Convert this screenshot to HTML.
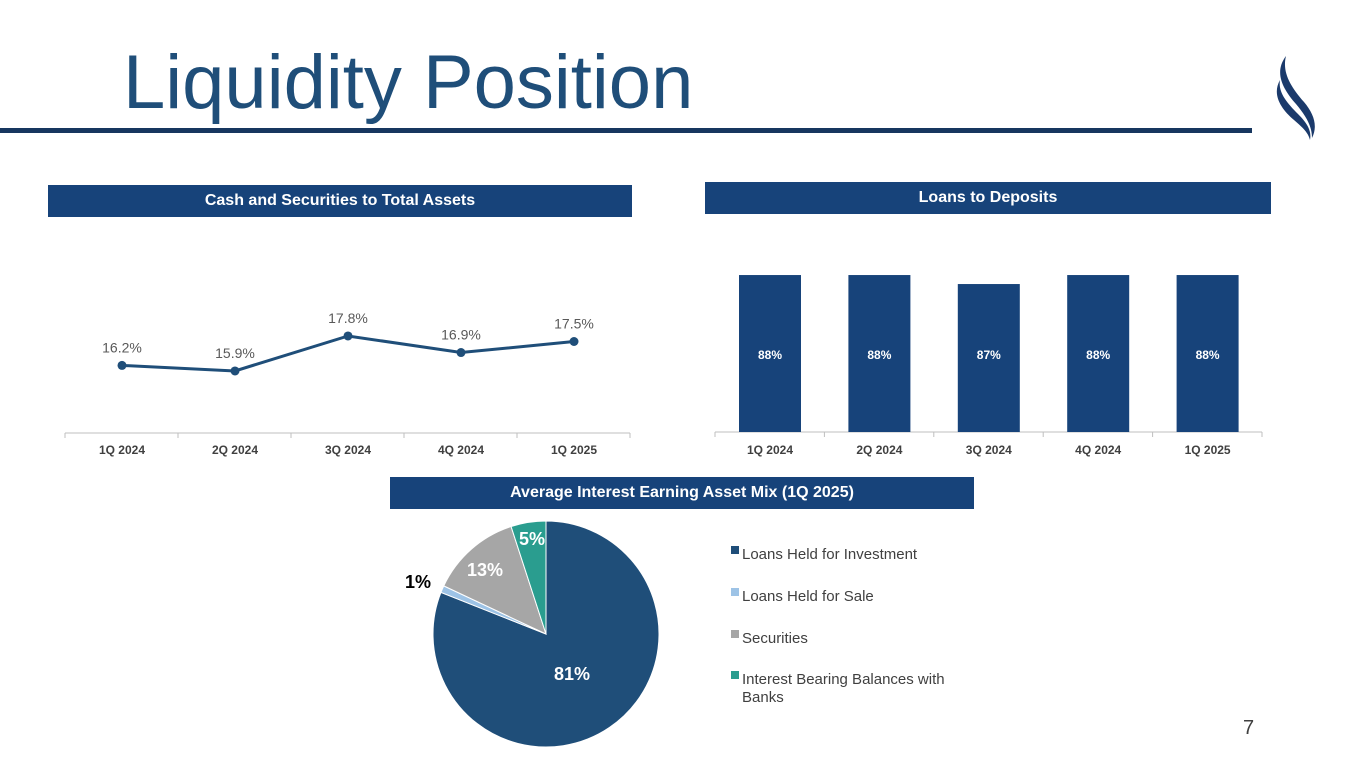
<!DOCTYPE html>
<html><head><meta charset="utf-8"><style>
body{margin:0;width:1365px;height:768px;background:#fff;font-family:"Liberation Sans",sans-serif;position:relative;overflow:hidden}
.t{position:absolute}
.hdr{position:absolute;background:#17437a;color:#fff;font-weight:bold;font-size:16px;text-align:center;box-sizing:border-box}
</style></head><body>
<div class="t" style="left:123px;top:38px;font-size:76px;color:#1f4e79;line-height:90px">Liquidity Position</div>
<div class="t" style="left:0;top:128px;width:1252px;height:5px;background:#17365f"></div>
<svg class="t" style="left:1268px;top:52px" width="60" height="90" viewBox="0 0 60 90">
<path d="M18 4 C6 20,14 36,28 52 C38 64,44 74,44 86 C50 74,46 62,36 50 C22 34,14 20,18 4Z" fill="#1b3a6b"/>
<path d="M12 28 C4 42,12 56,26 68 C34 75,40 80,42 88 C44 78,38 70,30 62 C18 50,10 40,12 28Z" fill="#1b3a6b"/>
</svg>
<div class="hdr" style="left:48px;top:185px;width:584px;height:32px;line-height:32px">Cash and Securities to Total Assets</div>
<div class="hdr" style="left:705px;top:182px;width:566px;height:32px;line-height:32px">Loans to Deposits</div>
<div class="hdr" style="left:390px;top:477px;width:584px;height:32px;line-height:32px">Average Interest Earning Asset Mix (1Q 2025)</div>
<svg class="t" id="charts" style="left:0;top:0" width="1365" height="768"></svg>
<div class="t" style="left:1243px;top:717px;font-size:20px;color:#404040">7</div>
<script>
const cats=["1Q 2024","2Q 2024","3Q 2024","4Q 2024","1Q 2025"];
const cashVals=[16.2,15.9,17.8,16.9,17.5];
const cashLabels=["16.2%","15.9%","17.8%","16.9%","17.5%"];
const ldVals=[88,88,87,88,88];
const ldLabels=["88%","88%","87%","88%","88%"];
const pieNames=["Loans Held for Investment","Loans Held for Sale","Securities","Interest Bearing Balances with Banks"];
const pieVals=[81,1,13,5];
const pieLabels=["81%","1%","13%","5%"];
const NS="http://www.w3.org/2000/svg";
const svg=document.getElementById('charts');
function mk(t,a,txt){const e=document.createElementNS(NS,t);for(const k in a)e.setAttribute(k,a[k]);if(txt!=null)e.textContent=txt;svg.appendChild(e);return e;}
// line chart
const lx=i=>122+i*113, ly=v=>663.5-v*18.4;
let ax=mk('line',{x1:65,y1:433,x2:630,y2:433,stroke:'#bfbfbf'});

for(let i=0;i<=5;i++){mk('line',{x1:65+i*113,y1:433,x2:65+i*113,y2:438,stroke:'#bfbfbf'});}
let d=cashVals.map((v,i)=>(i?'L':'M')+lx(i)+' '+ly(v)).join(' ');
let pl=mk('path',{d:d,fill:'none',stroke:'#1f4e79','stroke-width':3});

cashVals.forEach((v,i)=>{
 let c=mk('circle',{cx:lx(i),cy:ly(v),r:4.5,fill:'#1f4e79'});
 
 let t=mk('text',{x:lx(i),y:ly(v)-13,'text-anchor':'middle','font-size':14,fill:'#595959'},cashLabels[i]);
 
 let c2=mk('text',{x:lx(i),y:454,'text-anchor':'middle','font-size':12,'font-weight':'bold',fill:'#404040'},cats[i]);
 
});
// bar chart
const bx=i=>770+i*109.4, by=v=>432-(v-70.56)*9;
let ax2=mk('line',{x1:715,y1:432,x2:1262,y2:432,stroke:'#bfbfbf'});

for(let i=0;i<=5;i++){mk('line',{x1:715+i*109.4,y1:432,x2:715+i*109.4,y2:437,stroke:'#bfbfbf'});}
ldVals.forEach((v,i)=>{
 let r=mk('rect',{x:bx(i)-31,y:by(v),width:62,height:432-by(v),fill:'#17437a'});
 
 let t=mk('text',{x:bx(i),y:359,'text-anchor':'middle','font-size':12,'font-weight':'bold',fill:'#fff'},ldLabels[i]);
 
 let c2=mk('text',{x:bx(i),y:454,'text-anchor':'middle','font-size':12,'font-weight':'bold',fill:'#404040'},cats[i]);
 
});
// pie
const cols=['#1f4e79','#9dc3e6','#a6a6a6','#2a9d8f'];
const cx=546,cy=634,R=113;const tot=pieVals.reduce((a,b)=>a+b,0);
let a0=0;
const lblPos=[[572,680,'#fff',18],[418,588,'#000',18],[485,576,'#fff',18],[532,545,'#fff',18]];
pieVals.forEach((v,i)=>{
 const a1=a0+v/tot*2*Math.PI;
 const p=(a)=>[cx+R*Math.sin(a),cy-R*Math.cos(a)];
 const [x0,y0]=p(a0),[x1,y1]=p(a1);
 let s=mk('path',{d:`M${cx} ${cy} L${x0} ${y0} A${R} ${R} 0 ${a1-a0>Math.PI?1:0} 1 ${x1} ${y1} Z`,fill:cols[i],stroke:'#fff','stroke-width':1});
 
 const L=lblPos[i];
 let t=mk('text',{x:L[0],y:L[1],'text-anchor':'middle','font-size':L[3],'font-weight':'bold',fill:L[2]},pieLabels[i]);
 
 a0=a1;
});
// legend
const ly0=[554,596,638,679];
pieNames.forEach((n,i)=>{
 let r=mk('rect',{x:731,y:ly0[i]-8,width:8,height:8,fill:cols[i]});
 
 if(i==3){
  let t=mk('text',{x:742,y:ly0[i]+5,'font-size':15,fill:'#404040'},'Interest Bearing Balances with');
  
  let t2=mk('text',{x:742,y:ly0[i]+23,'font-size':15,fill:'#404040'},'Banks');
  
 } else {
  let t=mk('text',{x:742,y:ly0[i]+5,'font-size':15,fill:'#404040'},n);
  
 }
});
</script>
</body></html>
